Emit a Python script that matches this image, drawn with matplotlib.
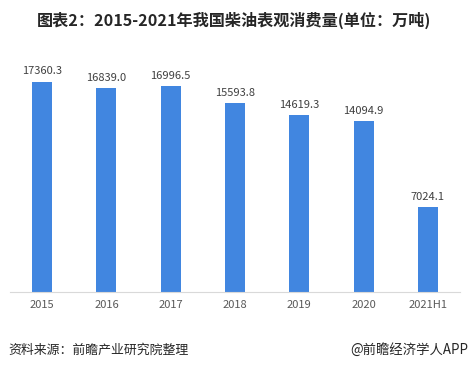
import matplotlib
matplotlib.use("Agg")
import matplotlib.pyplot as plt

plt.rcParams['font.family'] = ['Noto Sans CJK SC', 'DejaVu Sans']

years = ["2015", "2016", "2017", "2018", "2019", "2020", "2021H1"]
values = [17360.3, 16839.0, 16996.5, 15593.8, 14619.3, 14094.9, 7024.1]
labels = ["17360.3", "16839.0", "16996.5", "15593.8", "14619.3", "14094.9", "7024.1"]

fig = plt.figure(figsize=(4.69, 3.70), dpi=100)
ax = fig.add_axes([10/469, 78/370, 450/469, 230/370])

x = range(len(years))
ax.bar(x, values, width=0.31, color="#4186e0")
for i, v in enumerate(values):
    ax.text(i, v + 450, labels[i], ha="center", va="bottom", fontsize=8, color="#404040")

ax.set_xlim(-0.5, len(years) - 0.5)
ax.set_ylim(0, 19000)
ax.set_xticks(list(x))
ax.set_xticklabels(years, fontsize=8, color="#595959")
ax.tick_params(axis="x", length=0, pad=6)
ax.set_yticks([])
for s in ["top", "left", "right"]:
    ax.spines[s].set_visible(False)
ax.spines["bottom"].set_color("#d9d9d9")

fig.text(0.5, 1 - 20/370, "图表2：2015-2021年我国柴油表观消费量(单位：万吨)",
         ha="center", va="center", fontsize=11.6, fontweight="bold", color="#262626")
fig.text(8/469, 1 - 350/370, "资料来源：前瞻产业研究院整理", ha="left", va="center",
         fontsize=9.3, color="#262626")
fig.text(468/469, 1 - 350/370, "@前瞻经济学人APP", ha="right", va="center",
         fontsize=9.6, color="#262626")

fig.savefig("out.png", dpi=100)
